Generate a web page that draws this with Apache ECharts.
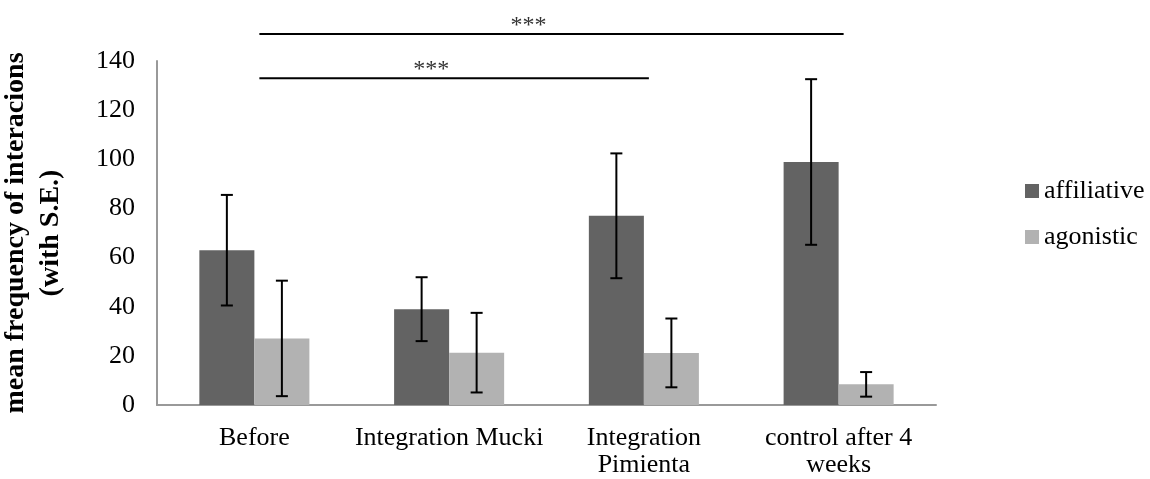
<!DOCTYPE html>
<html>
<head>
<meta charset="utf-8">
<script src="https://cdn.jsdelivr.net/npm/echarts@6/dist/echarts.min.js"></script>
<style>
  html, body { margin: 0; padding: 0; background: #fff; }
  #chart { width: 1150px; height: 479px; }
</style>
</head>
<body>
<div id="chart"></div>
<script>
// Interaction frequencies per phase
const categories = ['Before', 'Integration Mucki', 'Integration\nPimienta', 'control after 4\nweeks'];
const affiliative = [63, 39, 77, 98.9];
const affiliativeSE = [22.5, 13, 25.4, 33.7];
const agonistic = [27.1, 21.3, 21.2, 8.4];
const agonisticSE = [23.5, 16.2, 14, 5];
const yTicks = { min: 0, max: 140, interval: 20 };

// Significance brackets: [from category, to category, height, label]
const significance = [
  [0, 3, 151, '***'],
  [0, 2, 133, '***']
];

const FONT = '"Liberation Serif", "Times New Roman", serif';
const BAR_GAP_RATIO = 0.435;

function errorData(values, se) {
  return values.map((v, i) => [i, v - se[i], v + se[i]]);
}

function errorSeries(name, values, se, side) {
  return {
    type: 'custom',
    name: name + ' SE',
    silent: true,
    z: 5,
    data: errorData(values, se),
    encode: { x: 0, y: [1, 2] },
    renderItem: function (params, api) {
      const band = api.size([1, 0])[0];
      const barW = band * (1 - BAR_GAP_RATIO) / 2;
      const lo = api.coord([api.value(0), api.value(1)]);
      const hi = api.coord([api.value(0), api.value(2)]);
      const x = lo[0] + side * barW / 2;
      const cap = 6;
      const style = { stroke: '#000', lineWidth: 2 };
      return {
        type: 'group',
        children: [
          { type: 'line', shape: { x1: x, y1: lo[1], x2: x, y2: hi[1] }, style },
          { type: 'line', shape: { x1: x - cap, y1: lo[1], x2: x + cap, y2: lo[1] }, style },
          { type: 'line', shape: { x1: x - cap, y1: hi[1], x2: x + cap, y2: hi[1] }, style }
        ]
      };
    }
  };
}

const chart = echarts.init(document.getElementById('chart'), null, { renderer: 'canvas' });

chart.setOption({
  animation: false,
  backgroundColor: '#fff',
  textStyle: { fontFamily: FONT },
  grid: { left: 157, right: 214, top: 61, bottom: 74, containLabel: false, outerBoundsMode: 'none' },
  legend: {
    orient: 'vertical',
    left: 1025,
    top: 178,
    padding: 0,
    itemWidth: 14,
    itemHeight: 14,
    itemGap: 20,
    icon: 'rect',
    data: ['affiliative', 'agonistic'],
    textStyle: { fontFamily: FONT, fontSize: 26, color: '#000' }
  },
  xAxis: {
    type: 'category',
    data: categories,
    axisLine: { lineStyle: { color: '#999', width: 2 } },
    axisTick: { show: false },
    axisLabel: { fontFamily: FONT, fontSize: 26, color: '#000', margin: 20, lineHeight: 27, interval: 0 }
  },
  yAxis: {
    type: 'value',
    min: yTicks.min,
    max: yTicks.max,
    interval: yTicks.interval,
    name: 'mean frequency of interacions\n(with S.E.)',
    nameLocation: 'middle',
    nameGap: 89,
    nameRotate: 90,
    nameTextStyle: { fontFamily: FONT, fontSize: 28, fontWeight: 'bold', color: '#000', lineHeight: 35 },
    axisLine: { show: true, lineStyle: { color: '#999', width: 2 } },
    axisTick: { show: false },
    splitLine: { show: false },
    axisLabel: { fontFamily: FONT, fontSize: 26, color: '#000', margin: 22 }
  },
  series: [
    {
      name: 'affiliative',
      type: 'bar',
      data: affiliative,
      barGap: '0%',
      barCategoryGap: (BAR_GAP_RATIO * 100) + '%',
      itemStyle: { color: '#636363' }
    },
    {
      name: 'agonistic',
      type: 'bar',
      data: agonistic,
      itemStyle: { color: '#b2b2b2' }
    },
    errorSeries('affiliative', affiliative, affiliativeSE, -1),
    errorSeries('agonistic', agonistic, agonisticSE, 1),
    {
      type: 'custom',
      name: 'significance',
      silent: true,
      clip: false,
      z: 6,
      data: significance,
      encode: { x: [0, 1], y: 2 },
      renderItem: function (params, api) {
        const a = api.coord([api.value(0), api.value(2)]);
        const b = api.coord([api.value(1), api.value(2)]);
        const mid = (a[0] + b[0]) / 2 - 18;
        return {
          type: 'group',
          children: [
            { type: 'line', shape: { x1: a[0] + 5, y1: a[1], x2: b[0] + 5, y2: b[1] },
              style: { stroke: '#000', lineWidth: 2 } },
            { type: 'text', x: mid, y: a[1] + 4,
              style: { text: significance[params.dataIndex][3], fill: '#333',
                       font: '24px ' + FONT, align: 'center', verticalAlign: 'bottom' } }
          ]
        };
      }
    }
  ]
});
</script>
</body>
</html>
